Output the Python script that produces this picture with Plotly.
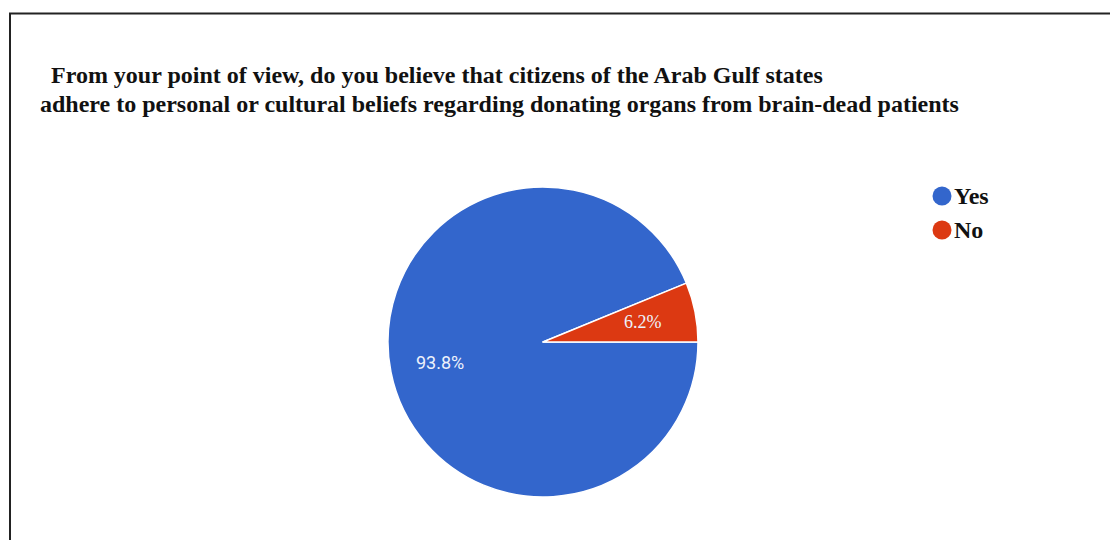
import math
import plotly.graph_objects as go

# Survey answers and their shares (percent)
labels = ["Yes", "No"]
values = [93.8, 6.2]
colors = ["#3366CC", "#DC3912"]

title_lines = [
    "From your point of view, do you believe that citizens of the Arab Gulf states",
    "adhere to personal or cultural beliefs regarding donating organs from brain-dead patients",
]

W, H = 1110, 540


def px_x(x):
    return x / W


def px_y(y):
    return 1 - y / H


cx, cy, r = 543, 342, 155

fig = go.Figure()
fig.add_trace(go.Pie(
    labels=labels,
    values=values,
    sort=False,
    direction="clockwise",
    rotation=90,
    marker=dict(colors=colors, line=dict(color="white", width=1.5)),
    textinfo="none",
    showlegend=False,
    hoverinfo="label+percent",
    domain=dict(x=[px_x(cx - r), px_x(cx + r)], y=[px_y(cy + r), px_y(cy - r)]),
))

annotations = []

# Percentage labels placed along each slice's bisector
total = sum(values)
start = 0.0  # degrees, measured clockwise from 3 o'clock
label_fonts = ["Roboto", "Liberation Serif"]
label_radius = [0.68, 0.66]
for v, fam, fr in zip(values, label_fonts, label_radius):
    sweep = 360.0 * v / total
    mid = math.radians(start + sweep / 2)
    lx = cx + fr * r * math.cos(mid)
    ly = cy + fr * r * math.sin(mid)
    annotations.append(dict(x=px_x(lx), y=px_y(ly), xref="paper", yref="paper",
                            text=f"{v:.1f}%", showarrow=False,
                            xanchor="center", yanchor="middle",
                            font=dict(family=fam, size=18, color="#eef2fb")))
    start += sweep

for (lx, ly), line in zip([(49, 75), (38, 104)], title_lines):
    annotations.append(dict(x=px_x(lx), y=px_y(ly), xref="paper", yref="paper",
                            text="<b>" + line + "</b>", showarrow=False,
                            xanchor="left", yanchor="middle",
                            font=dict(family="Liberation Serif", size=24, color="#111")))

shapes = []
# Frame around the chart (open on the right and bottom)
shapes.append(dict(type="line", xref="paper", yref="paper",
                   x0=px_x(10), x1=px_x(10), y0=px_y(13), y1=px_y(545),
                   line=dict(color="#222", width=2)))
shapes.append(dict(type="line", xref="paper", yref="paper",
                   x0=px_x(9), x1=px_x(1115), y0=px_y(13.5), y1=px_y(13.5),
                   line=dict(color="#222", width=2)))

# Legend: coloured dots with bold labels
leg_x, leg_y0, leg_dy, dot_r = 942, 196, 34, 9.5
for i, (lab, col) in enumerate(zip(labels, colors)):
    yy = leg_y0 + i * leg_dy
    shapes.append(dict(type="circle", xref="paper", yref="paper",
                       x0=px_x(leg_x - dot_r), x1=px_x(leg_x + dot_r),
                       y0=px_y(yy + dot_r), y1=px_y(yy - dot_r),
                       fillcolor=col, line=dict(width=0)))
    annotations.append(dict(x=px_x(leg_x + 10), y=px_y(yy), xref="paper", yref="paper",
                            text="<b>" + lab + "</b>", showarrow=False,
                            xanchor="left", yanchor="middle",
                            font=dict(family="Liberation Serif", size=24, color="#111")))

fig.update_layout(
    width=W, height=H,
    margin=dict(l=0, r=0, t=0, b=0),
    paper_bgcolor="white",
    plot_bgcolor="white",
    annotations=annotations,
    shapes=shapes,
)

fig.write_html("out.html")
